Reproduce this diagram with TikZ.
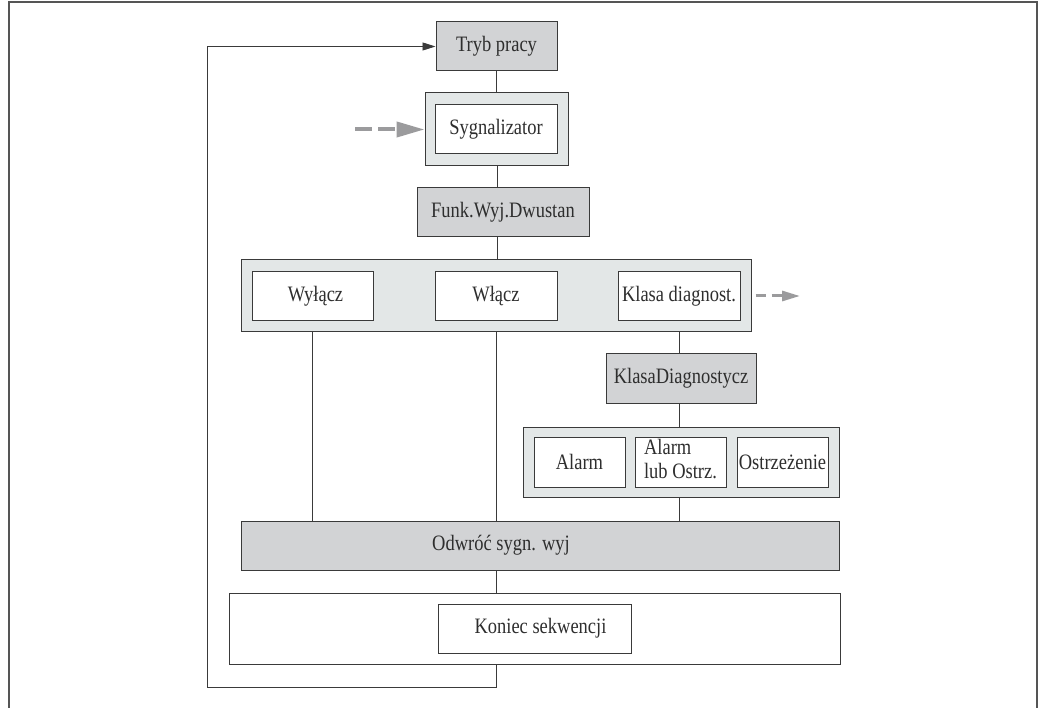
\documentclass[tikz,border=0pt]{standalone}
\usepackage{fontspec}
\setmainfont[FakeStretch=0.84]{Liberation Serif}
\usetikzlibrary{arrows.meta}
\definecolor{linec}{HTML}{3A3A3A}
\definecolor{textc}{HTML}{2E2E2E}
\definecolor{boxgray}{HTML}{D2D3D5}
\definecolor{panelc}{HTML}{E3E7E7}
\definecolor{dashc}{HTML}{9B9B9D}
\definecolor{framec}{HTML}{555555}
\tikzset{
  sz/.style 2 args={minimum width=#1,minimum height=#2},
  box/.style={draw=linec,line width=1pt,inner sep=0pt,text=textc,font=\fontsize{22}{24}\selectfont},
  gbox/.style={box,fill=boxgray},
  wbox/.style={box,fill=white},
  panel/.style={box,fill=panelc},
  conn/.style={draw=linec,line width=0.9pt},
  dashbig/.style={draw=dashc,line width=4pt,dash pattern=on 17pt off 6pt,-{Triangle[length=28pt,width=15pt]}},
  dashsmall/.style={draw=dashc,line width=3pt,dash pattern=on 10pt off 6pt,-{Triangle[length=18pt,width=10pt]}},
}
\begin{document}
\begin{tikzpicture}[x=1pt,y=-1pt]
\useasboundingbox (0,0) rectangle (1041,708);
% frame
\draw[framec,line width=2pt] (9,708) -- (9,2) -- (1037,2) -- (1037,708);

% nodes
\node[gbox,sz={121}{49}] (tryb) at (496.5,46.5) {Tryb pracy};
\node[panel,sz={143}{73}] (sygp) at (496.5,129.5) {};
\node[wbox,sz={122}{49}] (syg) at (496,129.5) {Sygnalizator};
\node[gbox,sz={172}{49}] (funk) at (503,212.5) {Funk.Wyj.Dwustan};

\node[panel,sz={510}{72}] (p1) at (496,296) {};
\node[wbox,sz={121}{49}] (wyl) at (312.5,296.5) {\hspace*{6pt}Wyłącz};
\node[wbox,sz={122}{49}] (wl) at (496,296.5) {Włącz};
\node[wbox,sz={122}{49}] (kl) at (679,296.5) {Klasa diagnost.};

\node[gbox,sz={150}{49}] (kd) at (681,378.5) {KlasaDiagnostycz};
\node[panel,sz={316}{70}] (p2) at (681,462) {};
\node[wbox,sz={91}{50}] (al) at (579.5,462) {Alarm};
\node[wbox,sz={91}{50}] (alo) at (680.5,462) {\raisebox{3pt}{\begin{tabular}{@{}l@{}}Alarm\\lub Ostrz.\end{tabular}}};
\node[wbox,sz={91}{50}] (os) at (782.5,462) {Ostrzeżenie};

\node[gbox,sz={598}{49}] (odw) at (540,545.5) {};
\node[text=textc,font=\fontsize{22}{24}\selectfont] (odwt) at (501,545.5) {Odwróć sygn. wyj};
\node[wbox,sz={611}{71}] (kp) at (534.5,628.5) {};
\node[wbox,sz={193}{49}] (kon) at (534.5,628.5) {\hspace*{12pt}Koniec sekwencji};

% connectors
\draw[conn] (tryb.south) -- (sygp.north);
\draw[conn] (sygp.south -| 497,0) -- (funk.north -| 497,0);
\draw[conn] (funk.south -| 497,0) -- (p1.north -| 497,0);
\draw[conn] (wyl |- p1.south) -- (wyl |- odw.north);
\draw[conn] (wl |- p1.south) -- (wl |- odw.north);
\draw[conn] (kl |- p1.south) -- (kl |- kd.north);
\draw[conn] (kl |- kd.south) -- (kl |- p2.north);
\draw[conn] (kl |- p2.south) -- (kl |- odw.north);
\draw[conn] (wl |- odw.south) -- (wl |- kp.north);

% feedback
\coordinate (fb1) at (496,687);
\coordinate (fb2) at (207,687);
\draw[conn,-{Triangle[length=13pt,width=8pt]}] (wl |- kp.south) -- (fb1) -- (fb2) |- (tryb.west);

% dashed arrows
\coordinate (din) at (355,129.5);
\draw[dashbig] (din) -- (sygp.west);
\coordinate (dout) at (800,296);
\draw[dashsmall] (p1.east |- dout) ++(4,0) -- (dout);
\end{tikzpicture}
\end{document}
